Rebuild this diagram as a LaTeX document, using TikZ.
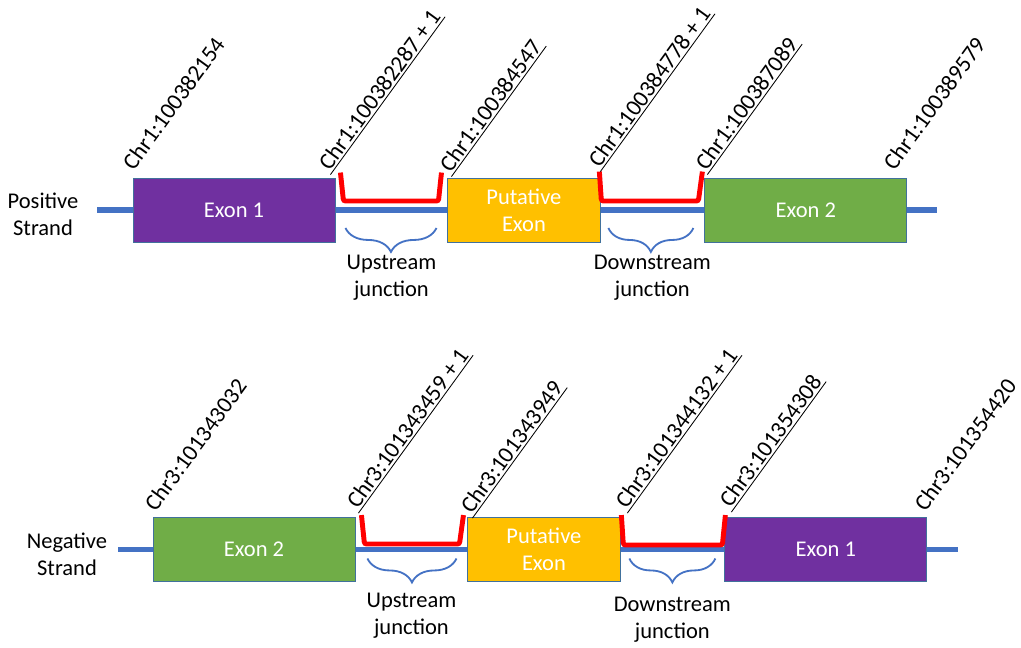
\documentclass[tikz,border=0pt]{standalone}
\usepackage{fontspec}
\setmainfont{Carlito}
\usetikzlibrary{positioning, calc, backgrounds, decorations.pathreplacing}
\definecolor{exonpurple}{HTML}{7030A0}
\definecolor{exongreen}{HTML}{70AD47}
\definecolor{exonorange}{HTML}{FFC000}
\definecolor{strandblue}{HTML}{4472C4}
\definecolor{edgeblue}{HTML}{41719C}
\tikzset{
    exon/.style={rectangle, draw=edgeblue, line width=0.6pt, minimum width=5.05cm, minimum height=1.6cm, text=white, align=center, font=\fontsize{16}{19}\selectfont},
    putative/.style={exon, fill=exonorange, minimum width=3.8cm},
    strand/.style={strandblue, line width=4pt},
    junction/.style={red, line width=3.5pt, rounded corners=1.5pt},
    jbrace/.style={strandblue, line width=1.3pt, decorate, decoration={brace, mirror, amplitude=17pt}},
    poslab/.style={rotate=54, anchor=south west, inner sep=1.5pt, font=\fontsize{16.5}{19}\selectfont},
    uline/.style={black, line width=0.6pt},
    junclab/.style={align=center, font=\fontsize{16}{19}\selectfont}
}
\begin{document}
\begin{tikzpicture}[x=0.025cm, y=-0.025cm]
    \useasboundingbox (0,0) rectangle (1021,647);

    % positive strand
    \node (pos) [junclab] at (43,214) {Positive\\Strand};
    \node (e1) [exon, fill=exonpurple] at (234,210) {Exon 1};
    \node (pe) [putative, right=2.8cm of e1] {Putative\\Exon};
    \node (e2) [exon, fill=exongreen, right=2.6cm of pe] {Exon 2};
    \coordinate (pstart) at (97,210);
    \coordinate (pend) at (937,210);
    \begin{scope}[on background layer]
        \draw [strand] (pstart) -- (pend);
    \end{scope}

    \draw [junction] ($(e1.north east)+(5,-5)$) -- ($(e1.east)+(8,-9)$) -- ($(pe.west)+(-9,-9)$) -- ($(pe.north west)+(-6,-5)$);
    \draw [junction] ($(pe.north east)+(-1,-6)$) -- ($(pe.east)+(1,-9)$) -- ($(e2.west)+(-6,-9)$) -- ($(e2.north west)+(-2,-6)$);

    \draw [jbrace] ($(e1.east)+(10,18)$) -- ($(pe.west)+(-11,18)$);
    \draw [jbrace] ($(pe.east)+(8,18)$) -- ($(e2.west)+(-11,18)$);
    \node (pup) [junclab] at ($(e1.east)!0.5!(pe.west)+(0,68)$) {Upstream\\junction};
    \node (pdown) [junclab] at ($(pe.east)!0.5!(e2.west)+(0,68)$) {Downstream\\junction};

    \node (l1) [poslab] at ($(e1.north west)+(2,-3)$) {Chr1:100382154};
    \node (l2) [poslab] at ($(e1.north east)+(-5,-3)$) {Chr1:100382287 + 1};
    \node (l3) [poslab] at ($(pe.north west)+(4,-1)$) {Chr1:100384547};
    \node (l4) [poslab] at ($(pe.north east)+(0,-6)$) {Chr1:100384778 + 1};
    \node (l5) [poslab] at ($(e2.north west)+(3,-3)$) {Chr1:100387089};
    \node (l6) [poslab] at ($(e2.north east)+(-12,-3)$) {Chr1:100389579};
    \draw [uline] (l2.south west) -- (l2.south east);
    \draw [uline] (l3.south west) -- (l3.south east);
    \draw [uline] (l4.south west) -- (l4.south east);
    \draw [uline] (l5.south west) -- (l5.south east);

    % negative strand
    \node (neg) [junclab] at (67,554) {Negative\\Strand};
    \node (e2b) [exon, fill=exongreen] at (254,549.5) {Exon 2};
    \node (pb) [putative, right=2.8cm of e2b] {Putative\\Exon};
    \node (e1b) [exon, fill=exonpurple, right=2.6cm of pb] {Exon 1};
    \coordinate (nstart) at (118,549.5);
    \coordinate (nend) at (958,549.5);
    \begin{scope}[on background layer]
        \draw [strand] (nstart) -- (nend);
    \end{scope}

    \draw [junction] ($(e2b.north east)+(6,-2)$) -- ($(e2b.east)+(9,-5.5)$) -- ($(pb.west)+(-8,-5.5)$) -- ($(pb.north west)+(-4,-2)$);
    \draw [junction] ($(pb.north east)+(1,-2)$) -- ($(pb.east)+(3,-4.5)$) -- ($(e1b.west)+(-2,-4.5)$) -- ($(e1b.north west)+(1,-2)$);

    \draw [jbrace] ($(e2b.east)+(12,9)$) -- ($(pb.west)+(-11,9)$);
    \draw [jbrace] ($(pb.east)+(9,9)$) -- ($(e1b.west)+(-9,9)$);
    \node (nup) [junclab] at ($(e2b.east)!0.5!(pb.west)+(0,66)$) {Upstream\\junction};
    \node (ndown) [junclab] at ($(pb.east)!0.5!(e1b.west)+(0,70)$) {Downstream\\junction};

    \node (m1) [poslab] at ($(e2b.north west)+(4,-1)$) {Chr3:101343032};
    \node (m2) [poslab] at ($(e2b.north east)+(3,-4)$) {Chr3:101343459 + 1};
    \node (m3) [poslab] at ($(pb.north west)+(5,1)$) {Chr3:101343949};
    \node (m4) [poslab] at ($(pb.north east)+(7,-4)$) {Chr3:101344132 + 1};
    \node (m5) [poslab] at ($(e1b.north west)+(7,-5)$) {Chr3:101354308};
    \node (m6) [poslab] at ($(e1b.north east)+(-1,-1)$) {Chr3:101354420};
    \draw [uline] (m2.south west) -- (m2.south east);
    \draw [uline] (m3.south west) -- (m3.south east);
    \draw [uline] (m4.south west) -- (m4.south east);
    \draw [uline] (m5.south west) -- (m5.south east);
\end{tikzpicture}
\end{document}
